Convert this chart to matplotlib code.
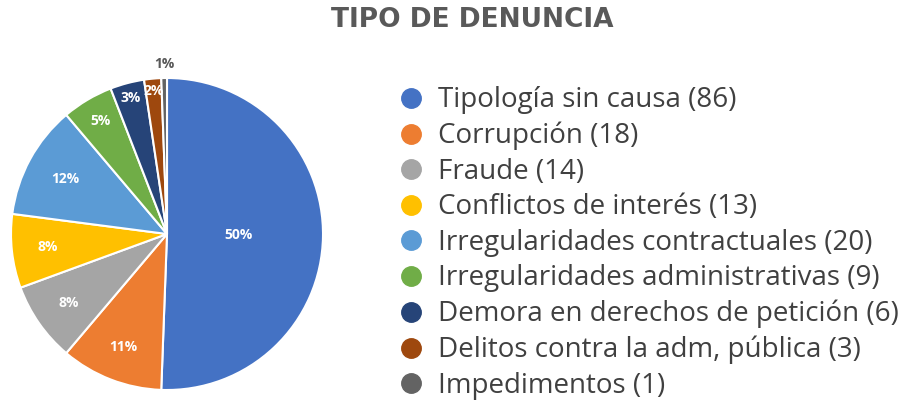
import numpy as np
import matplotlib
matplotlib.use('Agg')
from matplotlib import pyplot as plt
from matplotlib.lines import Line2D

categorias = ['Tipología sin causa', 'Corrupción', 'Fraude', 'Conflictos de interés',
              'Irregularidades contractuales', 'Irregularidades administrativas',
              'Demora en derechos de petición', 'Delitos contra la adm, pública',
              'Impedimentos']
valores = [86, 18, 14, 13, 20, 9, 6, 3, 1]
etiquetas = ['50%', '11%', '8%', '8%', '12%', '5%', '3%', '2%', '1%']
colores = ['#4472C4', '#ED7D31', '#A5A5A5', '#FFC000', '#5B9BD5',
           '#70AD47', '#264478', '#9E480E', '#636363']

# distancia de cada etiqueta al centro (fraccion del radio)
dist = [0.46, 0.78, 0.77, 0.77, 0.74, 0.84, 0.9, 0.92, 1.09]

plt.rcParams['font.family'] = ['Open Sans', 'DejaVu Sans']

fig = plt.figure(figsize=(9.12, 4.05), dpi=100)
ax = fig.add_axes([11/912, 15/405, 312/912, 312/405])

wedges, _ = ax.pie(valores, colors=colores, startangle=90, counterclock=False,
                   wedgeprops=dict(edgecolor='white', linewidth=1.5))
ax.set_aspect('equal')
ax.set_xlim(-1, 1)
ax.set_ylim(-1, 1)
ax.axis('off')

for w, lab, d in zip(wedges, etiquetas, dist):
    ang = np.deg2rad((w.theta1 + w.theta2) / 2)
    x, y = d * np.cos(ang), d * np.sin(ang)
    col = '#595959' if d > 1 else 'white'
    ax.text(x, y, lab, ha='center', va='center', fontsize=10,
            fontweight='bold', color=col, clip_on=False)

fig.text(0.518, 0.95, 'TIPO DE DENUNCIA', ha='center', va='center',
         fontsize=19, fontweight='semibold', color='#595959', family='DejaVu Sans')

handles = [Line2D([], [], marker='o', linestyle='', markersize=14,
                  markerfacecolor=c, markeredgecolor=c) for c in colores]
textos = [f'{c} ({v})' for c, v in zip(categorias, valores)]
leg = fig.legend(handles, textos, loc='upper left', bbox_to_anchor=(0.435, 0.787),
                 frameon=False, fontsize=20, labelspacing=0.27, handletextpad=0.5,
                 handlelength=1.0, borderaxespad=0, borderpad=0)
for t in leg.get_texts():
    t.set_color('#404040')

fig.savefig('out.png', dpi=100, facecolor='white')
